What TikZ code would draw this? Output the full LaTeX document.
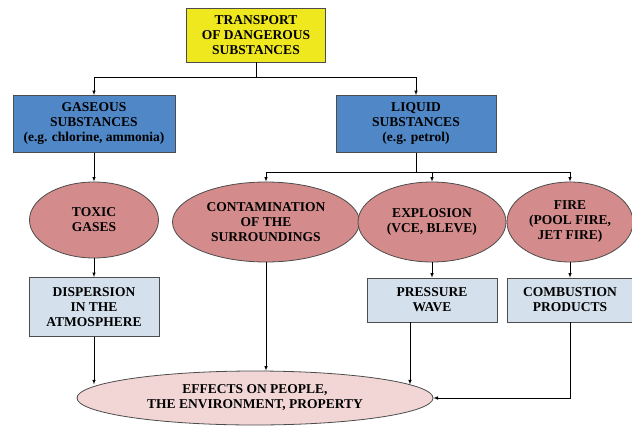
\documentclass[tikz,border=0pt]{standalone}
\usepackage{fontspec}
\setmainfont{Liberation Serif}
\usetikzlibrary{shapes.geometric}
\definecolor{topyellow}{RGB}{240,232,30}
\definecolor{kindblue}{RGB}{80,135,198}
\definecolor{hazardrose}{RGB}{212,139,139}
\definecolor{effectpale}{RGB}{212,224,236}
\definecolor{resultpink}{RGB}{242,214,214}
\tikzset{
  flowtext/.style={align=center, font=\fontsize{13.5}{15}\selectfont\bfseries, draw=black!70, line width=0.8pt},
  kindbox/.style={flowtext, rectangle, fill=kindblue, inner sep=0pt},
  hazard/.style={flowtext, ellipse, fill=hazardrose, inner sep=0pt},
  effectbox/.style={flowtext, rectangle, fill=effectpale, inner sep=0pt},
}

\begin{document}
\begin{tikzpicture}[x=1pt, y=-1pt, >=latex, line width=0.6pt]
            \useasboundingbox (0,0) rectangle (632,426);
            \node[kindbox, fill=topyellow, minimum width=139, minimum height=54] (top) at (256,35) {TRANSPORT\\OF DANGEROUS\\SUBSTANCES};
            \node[kindbox, minimum width=162, minimum height=57] (gas) at (94,124) {GASEOUS\\SUBSTANCES\\(e.g. chlorine, ammonia)};
            \node[kindbox, minimum width=160, minimum height=57] (liq) at (416,124) {LIQUID\\SUBSTANCES\\(e.g. petrol)};
            \node[hazard, minimum width=129, minimum height=76] (toxic) at (94,220) {TOXIC\\GASES};
            \node[hazard, minimum width=187, minimum height=80] (contam) at (266,222) {CONTAMINATION\\OF THE\\SURROUNDINGS};
            \node[hazard, minimum width=148, minimum height=80] (expl) at (432,222) {EXPLOSION\\(VCE, BLEVE)};
            \node[hazard, minimum width=126, minimum height=80] (fire) at (570,222) {FIRE\\(POOL FIRE,\\JET FIRE)};
            \node[effectbox, minimum width=130, minimum height=59] (disp) at (94,307) {DISPERSION\\IN THE\\ATMOSPHERE};
            \node[effectbox, minimum width=130, minimum height=44] (press) at (432,300) {PRESSURE\\WAVE};
            \node[effectbox, minimum width=126, minimum height=44] (comb) at (570,300) {COMBUSTION\\PRODUCTS};
            \node[flowtext, ellipse, fill=resultpink, inner sep=0pt, minimum width=356, minimum height=54] (eff) at (255,398) {EFFECTS ON PEOPLE,\\THE ENVIRONMENT, PROPERTY};
            \coordinate (split1) at (256,77);
            \coordinate (split2) at (416,172);
            \draw (top) -- (split1);
            \draw[->] (split1) -| (gas);
            \draw[->] (split1) -| (liq);
            \draw[->] (gas) -- (toxic);
            \draw (liq) -- (split2);
            \draw[->] (split2) -| (contam);
            \draw[->] (split2) -| (expl);
            \draw[->] (split2) -| (fire);
            \draw[->] (toxic) -- (disp);
            \draw[->] (expl) -- (press);
            \draw[->] (fire) -- (comb);
            \draw[->] (disp.south) -- (disp.south |- eff.175.9);
            \draw[->] (contam.south) -- (contam.south |- eff.north);
            \draw[->] (eff.5.9 |- press.south) -- (eff.5.9);
            \draw[->] (comb.south) |- (eff.east);
        \end{tikzpicture}
\end{document}
